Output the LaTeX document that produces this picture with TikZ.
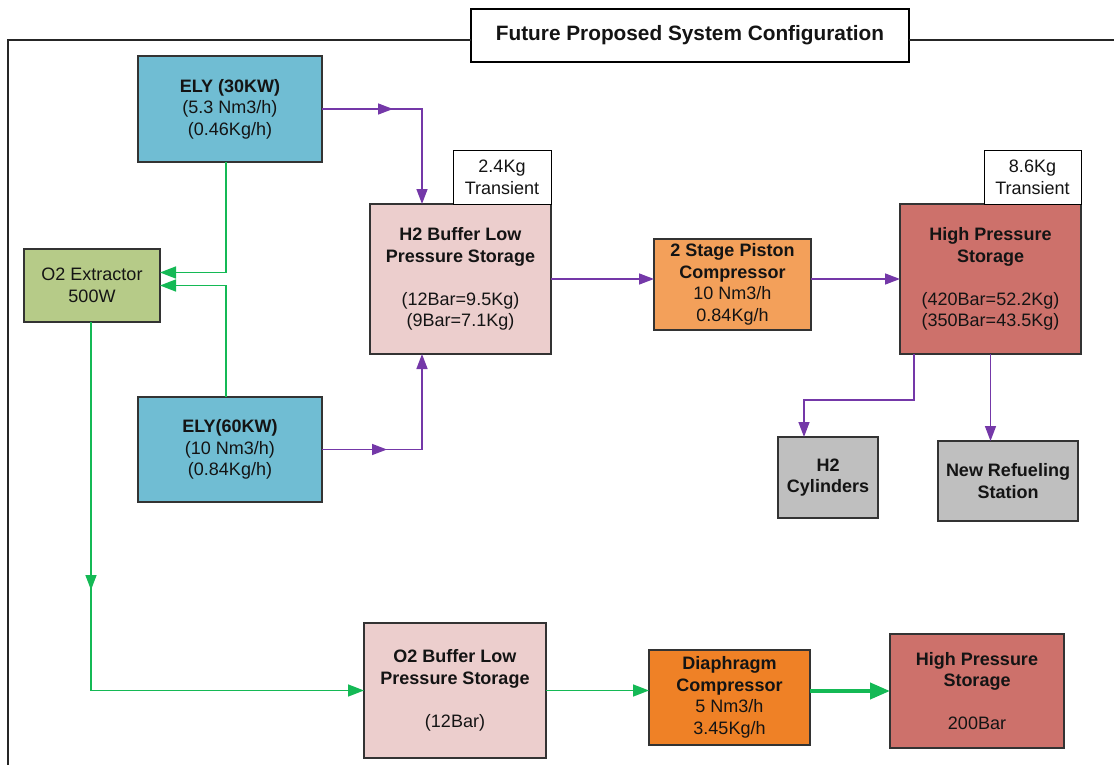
\documentclass[tikz,border=0pt]{standalone}
\usepackage{fontspec}
\setmainfont{Liberation Sans}
\usetikzlibrary{arrows.meta,calc,decorations.markings}

\definecolor{elyblue}{RGB}{112,189,211}
\definecolor{o2green}{RGB}{182,203,136}
\definecolor{bufpink}{RGB}{236,206,205}
\definecolor{pistonorange}{RGB}{243,160,90}
\definecolor{diaorange}{RGB}{239,129,38}
\definecolor{hpred}{RGB}{205,113,107}
\definecolor{endgrey}{RGB}{191,191,191}
\definecolor{boxline}{RGB}{51,51,51}
\definecolor{textdark}{RGB}{20,20,20}
\definecolor{h2purple}{RGB}{116,56,168}
\definecolor{o2line}{RGB}{20,185,85}

\begin{document}
\begin{tikzpicture}[x=1pt,y=-1pt,
  box/.style={draw=boxline,line width=1.3pt,align=center,inner sep=0pt,outer sep=0pt,
    anchor=north west,text=textdark,font=\fontsize{18}{21.5}\selectfont},
  tagbox/.style={box,fill=white,draw=black,line width=1pt},
  h2flow/.style={draw=h2purple,line width=1.5pt,-{Triangle[length=15pt,width=11pt]}},
  o2flow/.style={draw=o2line,line width=1.5pt,-{Triangle[length=16pt,width=12pt]}},
  midarrow/.style={postaction={decorate},decoration={markings,
    mark=at position #1 with {\arrow{Triangle[length=15pt,width=11pt]}}}},
  frameline/.style={draw=black!85,line width=1.1pt}]

\useasboundingbox (0,0) rectangle (1114,765);

% title and outer frame
\node[box,fill=white,draw=black,line width=1.1pt,minimum width=438,minimum height=53,
  font=\fontsize{20.8}{24}\selectfont\bfseries] (title) at (471,9)
  {Future Proposed System Configuration};
\draw[frameline] (8,765) -- (8,40) -- (title.west |- 0,40);
\draw[frameline] (title.east |- 0,40) -- (1114,40);

% hydrogen side
\node[box,fill=elyblue,minimum width=184,minimum height=106] (ely30) at (138,56)
  {\textbf{ELY (30KW)}\\(5.3 Nm3/h)\\(0.46Kg/h)};
\node[box,fill=elyblue,minimum width=184,minimum height=105] (ely60) at (138,397)
  {\textbf{ELY(60KW)}\\(10 Nm3/h)\\(0.84Kg/h)};
\node[box,fill=o2green,minimum width=136,minimum height=73] (o2ex) at (24,249)
  {O2 Extractor\\500W};
\node[box,fill=bufpink,minimum width=181,minimum height=150] (h2buf) at (370,204)
  {\textbf{H2 Buffer Low}\\\textbf{Pressure Storage}\\~\\(12Bar=9.5Kg)\\(9Bar=7.1Kg)};
\node[tagbox,minimum width=98,minimum height=53] (tag1) at (453,151)
  {2.4Kg\\Transient};
\node[box,fill=pistonorange,minimum width=157,minimum height=91] (comp) at (654,239)
  {\textbf{2 Stage Piston}\\\textbf{Compressor}\\10 Nm3/h\\0.84Kg/h};
\node[box,fill=hpred,minimum width=181,minimum height=150] (hps) at (900,204)
  {\textbf{High Pressure}\\\textbf{Storage}\\~\\(420Bar=52.2Kg)\\(350Bar=43.5Kg)};
\node[tagbox,minimum width=97,minimum height=53] (tag2) at (984,151)
  {8.6Kg\\Transient};
\node[box,fill=endgrey,minimum width=100,minimum height=81] (cyl) at (778,437)
  {\textbf{H2}\\\textbf{Cylinders}};
\node[box,fill=endgrey,minimum width=140,minimum height=80] (refuel) at (938,441)
  {\textbf{New Refueling}\\\textbf{Station}};

% oxygen side
\node[box,fill=bufpink,minimum width=182,minimum height=135] (o2buf) at (364,623)
  {\textbf{O2 Buffer Low}\\\textbf{Pressure Storage}\\~\\(12Bar)};
\node[box,fill=diaorange,minimum width=161,minimum height=95] (diaph) at (649,650)
  {\textbf{Diaphragm}\\\textbf{Compressor}\\5 Nm3/h\\3.45Kg/h};
\node[box,fill=hpred,minimum width=174,minimum height=114] (hps2) at (890,634)
  {\textbf{High Pressure}\\\textbf{Storage}\\~\\200Bar};

% hydrogen connectors
\draw[h2flow,midarrow=71pt] (ely30.east) -| ($(h2buf.north west)+(52,0)$);
\draw[h2flow,midarrow=65pt] (ely60.east) -| ($(h2buf.south west)+(52,0)$);
\draw[h2flow] (h2buf.east) -- (h2buf.east -| comp.west);
\draw[h2flow] (comp.east |- hps.west) -- (hps.west);
\draw[h2flow] ($(hps.south west)+(14,0)$) -- ++(0,46) -| ($(cyl.north)+(-24,0)$);
\draw[h2flow] (hps.south) -- (hps.south |- refuel.north);

% oxygen connectors
\draw[o2flow] ($(ely30.south)+(-4,0)$) |- ($(o2ex.east)+(0,-13)$);
\draw[o2flow] ($(ely60.north)+(-4,0)$) |- (o2ex.east);
\draw[o2flow,midarrow=268pt] ($(o2ex.south)+(-1,0)$) |- (o2buf.west);
\draw[o2flow] (o2buf.east) -- (o2buf.east -| diaph.west);
\draw[draw=o2line,line width=4pt,-{Triangle[length=20pt,width=16pt]}]
  (diaph.east |- hps2.west) -- (hps2.west);

\end{tikzpicture}
\end{document}
